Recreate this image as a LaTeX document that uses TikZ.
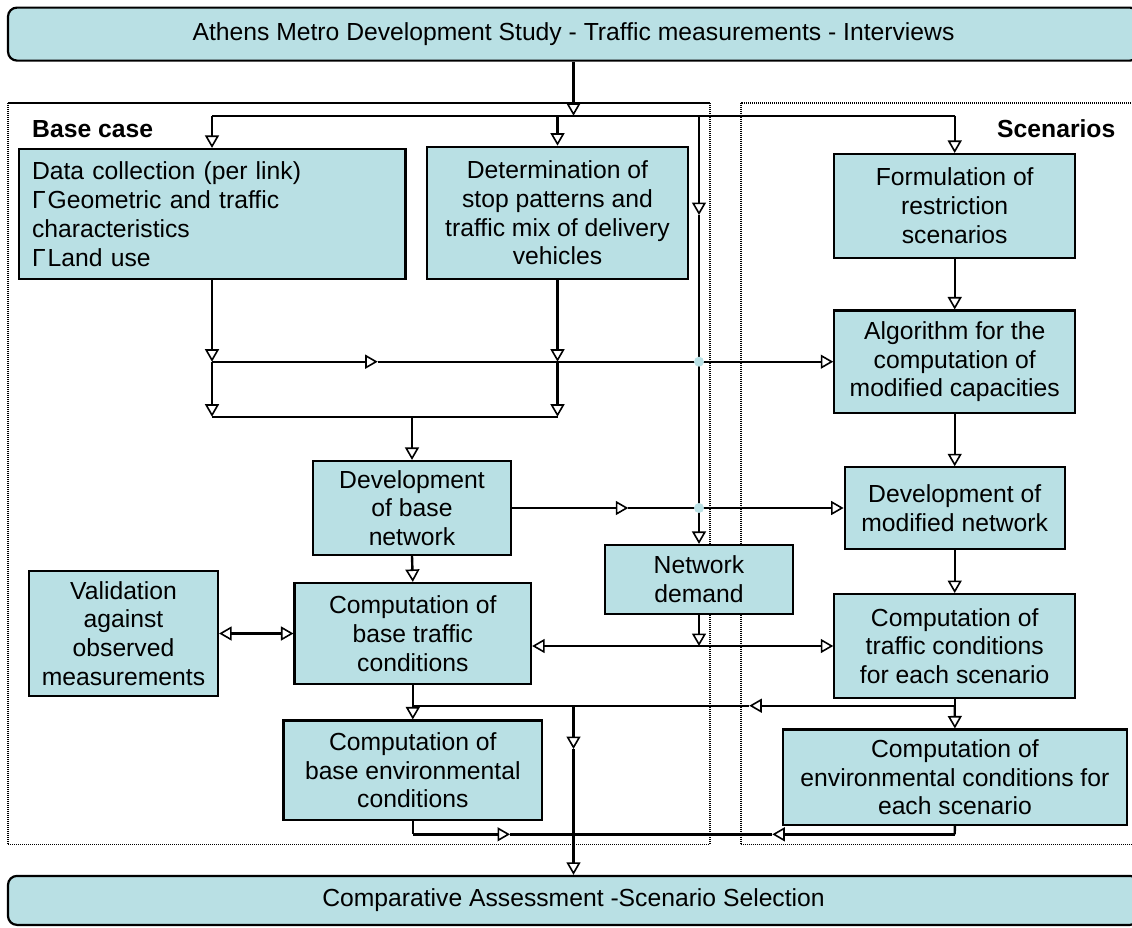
\documentclass[tikz,border=0pt]{standalone}
\usepackage{fontspec}
\setmainfont{Liberation Sans}
\usetikzlibrary{arrows.meta}
\definecolor{boxcyan}{RGB}{185,224,228}

\begin{document}
\begin{tikzpicture}[
  x=1pt, y=-1pt,
  font=\fontsize{24.7}{28.8}\selectfont,
  stage/.style={draw, fill=boxcyan, line width=2.2pt, align=center, inner sep=0pt},
  banner/.style={stage, rounded corners=9pt},
  region/.style={line width=1.8pt, dash pattern=on 1.2pt off 0.8pt},
  link/.style={line width=2.4pt},
  flow/.style={link, -{Triangle[open, length=12.5pt, width=14pt, line width=1.6pt]}},
  twoway/.style={link, {Triangle[open, length=12.5pt, width=14pt, line width=1.6pt]}-{Triangle[open, length=12.5pt, width=14pt, line width=1.6pt]}},
  arealabel/.style={font=\fontsize{24.7}{28.8}\selectfont\bfseries, inner sep=0pt}
]
  \useasboundingbox (0,0) rectangle (1132,927);
  \clip (0,0) rectangle (1132,927);

  % Dotted frames of the two parts of the study
  \draw[region] (8,102.7) rectangle (710,844.5);     % base case
  \draw[region] (740.7,102.7) rectangle (1145,844.5); % scenarios

  \node[arealabel, anchor=west] (baselbl) at (32,129)    {Base case};
  \node[arealabel, anchor=east] (scenlbl) at (1115.5,129) {Scenarios};

  % Input and output banners (right ends run off the page)
  \node[banner, minimum width=1131pt, minimum height=53pt] (survey) at (573.5,34.1)
    {Athens Metro Development Study - Traffic measurements - Interviews};
  \node[banner, minimum width=1131pt, minimum height=49pt] (assess) at (573.5,900.4)
    {Comparative Assessment -Scenario Selection};

  % Base case column
  \node[stage, align=left, text width=360pt, inner xsep=13.4pt, minimum height=130pt] (datacoll) at (212,214)
    {Data collection (per link)\\Γ\kern2pt Geometric and traffic\\characteristics\\Γ\kern2pt Land use};
  \node[stage, minimum width=261.6pt, minimum height=132.3pt] (stops) at (557.5,212.9)
    {Determination of\\stop patterns and\\traffic mix of delivery\\vehicles};
  \node[stage, minimum width=198.6pt, minimum height=94pt] (basenet) at (412,508)
    {Development\\of base\\network};
  \node[stage, minimum width=189pt, minimum height=125pt] (valid) at (123.5,633.5)
    {Validation\\against\\observed\\measurements};
  \node[stage, minimum width=236.5pt, minimum height=101pt] (basetraf) at (412.8,633.5)
    {Computation of\\base traffic\\conditions};
  \node[stage, minimum width=258.8pt, minimum height=99.5pt] (baseenv) at (412.8,770.3)
    {Computation of\\base environmental\\conditions};
  \node[stage, minimum width=187.3pt, minimum height=69pt] (demand) at (699,579.5)
    {Network\\demand};

  % Scenario column
  \node[stage, minimum width=240.7pt, minimum height=103.7pt] (restrict) at (954.7,205.9)
    {Formulation of\\restriction\\scenarios};
  \node[stage, minimum width=240.7pt, minimum height=102.3pt] (capac) at (954.7,361.7)
    {Algorithm for the\\computation of\\modified capacities};
  \node[stage, minimum width=220pt, minimum height=81.3pt] (modnet) at (954.7,508)
    {Development of\\modified network};
  \node[stage, minimum width=240.7pt, minimum height=103.7pt] (scentraf) at (954.7,646)
    {Computation of\\traffic conditions\\for each scenario};
  \node[stage, minimum width=344.6pt, minimum height=95.5pt] (scenenv) at (954.9,777.3)
    {Computation of\\environmental conditions for\\each scenario};

  % Distribution bus under the study banner
  \coordinate (busL) at (212,115.7);
  \coordinate (busR) at (954.7,115.7);
  \coordinate (feed) at (699,215);    % mid arrow on the demand feed
  \draw[flow] (survey.south) -- (survey.south |- busL);
  \draw[link] (busL) -- (busR);
  \draw[flow] (busL) -- (datacoll.north);
  \draw[flow] (stops.north |- busL) -- (stops.north);
  \draw[flow] (busR) -- (restrict.north);
  \draw[flow] (demand.north |- busL) -- (feed);
  \draw[flow] (feed) -- (demand.north);

  % Collector under the two data boxes
  \coordinate (colA) at (212,361.7);
  \coordinate (colB) at (557.5,361.7);
  \coordinate (colC) at (212,416.7);
  \coordinate (colD) at (557.5,416.7);
  \coordinate (colMid) at (377.7,361.7);
  \draw[flow] (datacoll.south) -- (colA);
  \draw[flow] (stops.south) -- (colB);
  \draw[flow] (colA) -- (colC);
  \draw[flow] (colB) -- (colD);
  \draw[link] (colC) -- (colD);
  \draw[flow] (colC -| basenet.north) -- (basenet.north);
  \draw[flow] (colA) -- (colMid);
  \draw[flow] (colMid) -- (capac.west);

  % Networks
  \coordinate (netMid) at (628.3,508);
  \draw[flow] (basenet.east) -- (netMid);
  \draw[flow] (netMid) -- (modnet.west);
  \draw[flow] (basenet.south) -- (basetraf.north);

  % Scenario chain
  \draw[flow] (restrict.south) -- (capac.north);
  \draw[flow] (capac.south) -- (modnet.north);
  \draw[flow] (modnet.south) -- (scentraf.north);

  % Validation and traffic assignment
  \draw[twoway] (valid.east) -- (basetraf.west);
  \coordinate (dem) at (699,646);
  \draw[flow] (demand.south) -- (dem);
  \draw[flow] (dem) -- (dem -| basetraf.east);
  \draw[flow] (dem) -- (scentraf.west);

  % Environmental step and output
  \coordinate (envL) at (412.8,705.7);
  \coordinate (envR) at (954.7,705.7);
  \coordinate (envMid) at (749.3,705.7);
  \coordinate (outTop) at (573.5,705.7);
  \coordinate (outMid) at (573.5,749);
  \draw[link] (basetraf.south) -- (envL);
  \draw[flow] (envL) -- (baseenv.north);
  \draw[link] (scentraf.south) -- (envR);
  \draw[flow] (envR) -- (scenenv.north);
  \draw[flow] (envR) -- (envMid);
  \draw[link] (envMid) -- (envL);
  \draw[flow] (outTop) -- (outMid);
  \draw[flow] (outMid) -- (assess.north);

  \coordinate (resL) at (412.8,834.3);
  \coordinate (resR) at (954.7,834.3);
  \coordinate (resA) at (510,834.3);
  \coordinate (resB) at (772.3,834.3);
  \draw[link] (baseenv.south) -- (resL);
  \draw[flow] (resL) -- (resA);
  \draw[link] (resA) -- (resB);
  \draw[link] (scenenv.south) -- (resR);
  \draw[flow] (resR) -- (resB);

  % Crossing markers
  \fill[boxcyan] (699,361.7) circle (5pt);
  \fill[boxcyan] (699,508) circle (5pt);
\end{tikzpicture}
\end{document}
